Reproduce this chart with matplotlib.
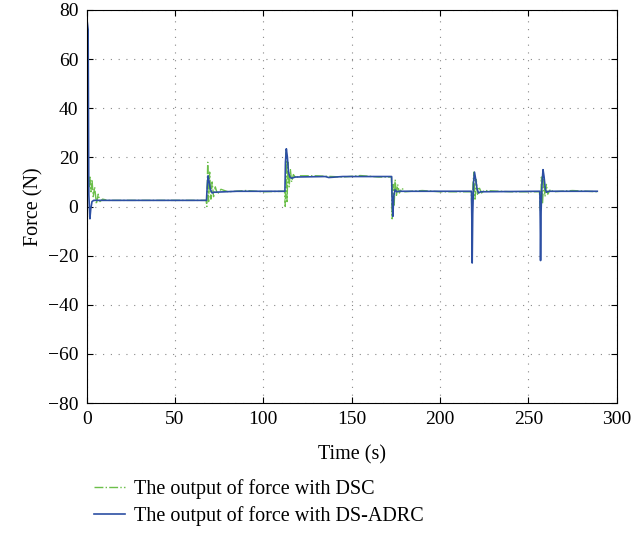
import matplotlib
matplotlib.use("Agg")
import matplotlib.pyplot as plt

plt.rcParams['font.family'] = ['Liberation Serif', 'DejaVu Serif']

# DS-ADRC output (blue, solid)
t_adrc = [0, 0.3, 0.8, 1.2, 1.8, 2.3, 3.0, 4.0, 67.8, 68.2, 68.7, 69.3, 70.0, 71.0,
          72.0, 85, 112.2, 112.5, 113.0, 113.6, 114.2, 115, 116, 118, 135, 137, 145,
          172.6, 172.9, 173.3, 173.8, 174.5, 175.5, 177, 217.8, 218.0, 218.2, 218.5,
          219.0, 219.5, 220.2, 221.0, 221.8, 223, 256.5, 256.7, 256.9, 257.2, 257.7,
          258.3, 258.9, 259.6, 260.3, 261.5, 289]
f_adrc = [-80, 75, 72, 5, -5, -1, 2, 2.5, 2.5, 8, 12.5, 10, 7, 5.5,
          5.8, 6.2, 6.2, 18, 23.5, 20, 14, 12, 11.5, 12, 12.2, 11.8, 12.2,
          12.2, 2, -4, 4, 6.8, 6, 6.2, 6.2, -5, -23, -3,
          10, 14, 11, 7, 5.5, 6, 6.2, -5, -22, -2, 9,
          15, 12, 7, 5.8, 6.2, 6.2]

# DSC output (green, dash-dot)
t_dsc = [0, 0.3, 0.8, 1.3, 1.8, 2.4, 3.0, 3.7, 4.5, 5.5, 6.5, 7.5, 9, 12, 20,
         67.6, 68.0, 68.5, 69.0, 69.6, 70.3, 71.0, 71.8, 72.8, 74, 76, 80, 90, 100,
         112.0, 112.4, 112.9, 113.4, 114.0, 114.6, 115.3, 116.0, 117, 118.5, 120,
         130, 145, 155, 165, 172.5, 172.9, 173.4, 174.0, 174.6, 175.3, 176.0, 177,
         178.5, 180, 190, 200, 217.7, 218.1, 218.6, 219.2, 219.8, 220.5, 221.2, 222,
         223.5, 225, 240, 256.3, 256.8, 257.4, 258.0, 258.7, 259.4, 260.2, 261,
         262.5, 264, 275, 289]
f_dsc = [-80, 70, 14, 8, 12, 6, 11, 4, 8, 1, 5, 2, 3, 2.5, 2.5,
         2.5, 0, 18, 2, 14, 3, 10, 4, 8, 5, 7, 6, 6.5, 6,
         6.2, 0, 22, 2, 18, 8, 15, 10, 13, 11.5, 12.5,
         12.5, 12, 12.6, 12, 12, -5, 9, 0, 11, 4, 9, 5.5,
         7.5, 6, 6.5, 6, 6, -4, 9, 14, 3, 11, 5, 8,
         5.5, 6.5, 6, 6, -2, 12, 1, 11, 4, 9, 5,
         7, 6, 6.5, 6]

fig = plt.figure(figsize=(6.44, 5.38), dpi=100)
ax = fig.add_axes([86.7 / 644, 1 - 403 / 538, 530 / 644, 393 / 538])

l1, = ax.plot(t_dsc, f_dsc, color='#6cbf4a', linestyle='-.', linewidth=1.0,
              label='The output of force with DSC')
l2, = ax.plot(t_adrc, f_adrc, color='#2c4fa3', linestyle='-', linewidth=1.2,
              label='The output of force with DS-ADRC')

ax.set_xlim(0, 300)
ax.set_ylim(-80, 80)
ax.set_xticks([0, 50, 100, 150, 200, 250, 300])
ax.set_yticks([-80, -60, -40, -20, 0, 20, 40, 60, 80])
ax.tick_params(direction='in', top=True, right=True, labelsize=14, length=4, pad=6)
ax.grid(True, color='#888888', linestyle=(0, (1, 6)), linewidth=0.8)
for s in ax.spines.values():
    s.set_linewidth(0.8)
ax.set_xlabel('Time (s)', fontsize=14.5, labelpad=12)
ax.set_ylabel('Force (N)', fontsize=14.5, labelpad=3)

fig.legend(handles=[l1, l2], loc='upper left', frameon=False, fontsize=14.5,
           bbox_to_anchor=(94 / 644, 1 - 479 / 538), handlelength=1.55,
           handletextpad=0.45, labelspacing=0.35, borderaxespad=0, borderpad=0)

fig.savefig('out.png', dpi=100)
